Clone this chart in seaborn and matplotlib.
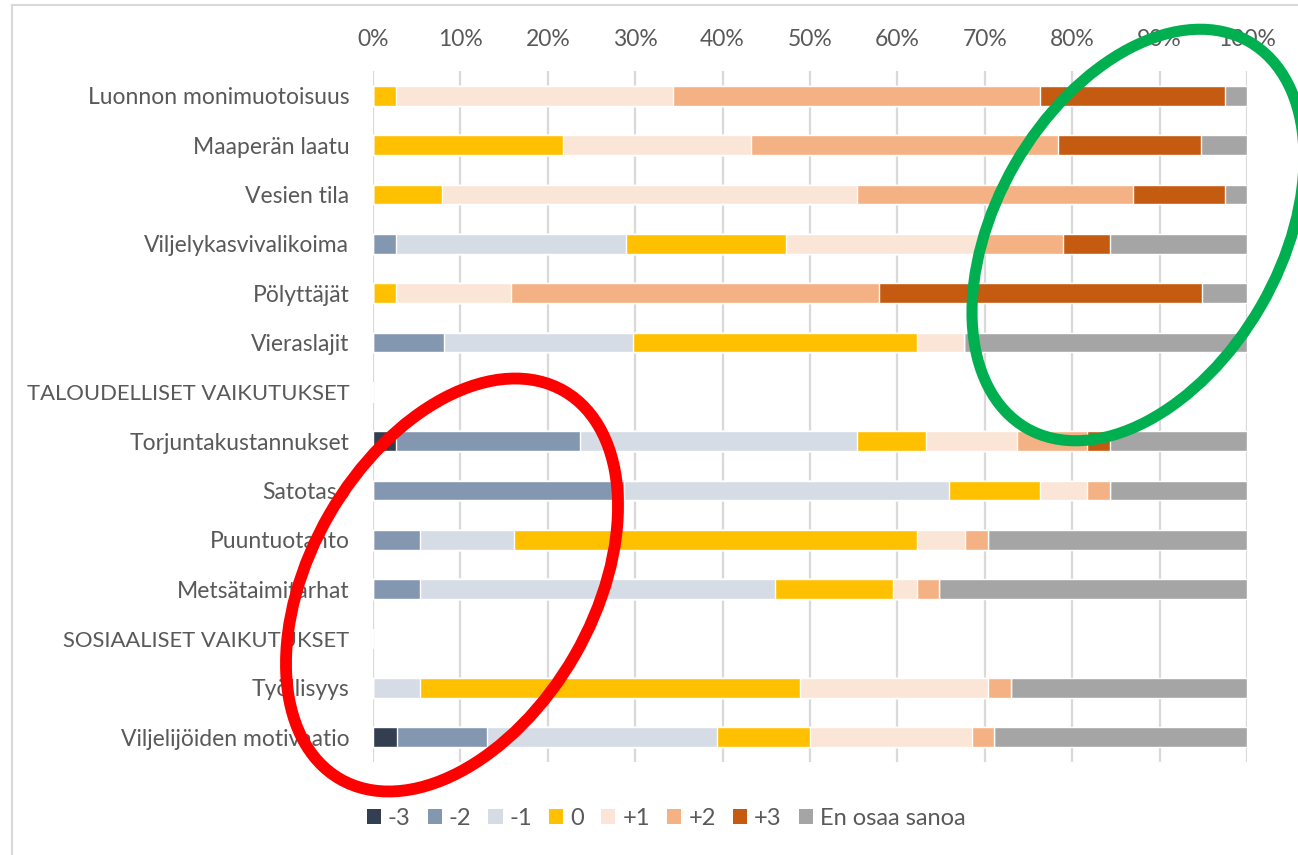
import matplotlib
matplotlib.use("Agg")
import matplotlib.pyplot as plt
from matplotlib.patches import Ellipse, Patch
import seaborn as sns
import numpy as np

categories = ["Luonnon monimuotoisuus", "Maaperän laatu", "Vesien tila",
              "Viljelykasvivalikoima", "Pölyttäjät", "Vieraslajit",
              "TALOUDELLISET VAIKUTUKSET", "Torjuntakustannukset", "Satotaso",
              "Puuntuotanto", "Metsätaimitarhat", "SOSIAALISET VAIKUTUKSET",
              "Työllisyys", "Viljelijöiden motivaatio"]

levels = ["-3", "-2", "-1", "0", "+1", "+2", "+3", "En osaa sanoa"]

s_m3 = [0, 0, 0, 0, 0, 0, 0, 2.6, 0, 0, 0, 0, 0, 2.7]
s_m2 = [0, 0, 0, 2.6, 0, 8.1, 0, 21.1, 28.7, 5.4, 5.4, 0, 0, 10.4]
s_m1 = [0, 0, 0, 26.3, 0, 21.6, 0, 31.7, 37.2, 10.7, 40.6, 0, 5.4, 26.3]
s_0 = [2.6, 21.7, 7.9, 18.4, 2.6, 32.5, 0, 7.9, 10.4, 46.1, 13.5, 0, 43.4, 10.6]
s_p1 = [31.7, 21.6, 47.5, 22.3, 13.2, 5.4, 0, 10.4, 5.4, 5.5, 2.7, 0, 21.6, 18.5]
s_p2 = [42.0, 35.1, 31.5, 9.3, 42.1, 0, 0, 8.0, 2.6, 2.7, 2.6, 0, 2.6, 2.5]
s_p3 = [21.2, 16.3, 10.6, 5.4, 36.9, 0, 0, 2.6, 0, 0, 0, 0, 0, 0]
s_eos = [2.5, 5.3, 2.5, 15.7, 5.2, 32.4, 0, 15.7, 15.7, 29.6, 35.2, 0, 27.0, 29.0]

colors = ["#333F50", "#8497B0", "#D6DCE5", "#FFC000", "#FBE5D6", "#F4B183",
          "#C55A11", "#A5A5A5"]

series = [s_m3, s_m2, s_m1, s_0, s_p1, s_p2, s_p3, s_eos]

sns.set_theme(style="white")
plt.rcParams["font.family"] = ["Lato", "DejaVu Sans"]
txt = "#595959"

W, H = 1298, 855
fig = plt.figure(figsize=(W / 100, H / 100), dpi=100)
fig.patch.set_facecolor("white")
ax = fig.add_axes([373 / W, 1 - 762 / H, (1247 - 373) / W, (762 - 71) / H])

cum = np.cumsum(np.array(series, dtype=float), axis=0)
for i in range(len(series) - 1, -1, -1):
    sns.barplot(x=cum[i], y=categories, color=colors[i], width=0.4,
                orient="h", saturation=1, ax=ax, zorder=3)

ax.set_xlim(0, 100)
ax.set_ylim(len(categories) - 0.5, -0.5)
ax.set_xticks(np.arange(0, 101, 10))
ax.set_xticklabels([f"{v}%" for v in range(0, 101, 10)])
ax.xaxis.tick_top()
ax.tick_params(axis="x", length=0, pad=15, labelsize=16.5, labelcolor=txt)
ax.tick_params(axis="y", length=0, pad=17, labelsize=16.5, labelcolor=txt)
for lab in ax.get_yticklabels():
    if lab.get_text().isupper():
        lab.set_fontsize(15.8)
ax.set_xlabel("")
ax.set_ylabel("")
ax.grid(axis="x", color="#D9D9D9", linewidth=1.6, zorder=0)
ax.set_axisbelow(True)
for sp in ax.spines.values():
    sp.set_visible(False)

handles = [Patch(facecolor=c, edgecolor="none", label=l) for c, l in zip(colors, levels)]
fig.legend(handles=handles, loc="center", bbox_to_anchor=(666 / W, 1 - 818 / H),
           ncol=8, frameon=False, fontsize=17, labelcolor=txt,
           handlelength=0.6, handleheight=0.6, handletextpad=0.3,
           columnspacing=0.72, borderaxespad=0)

ov = fig.add_axes([0, 0, 1, 1], zorder=10)
ov.set_xlim(0, W)
ov.set_ylim(H, 0)
ov.axis("off")
ov.patch.set_alpha(0)
ov.plot([12, W], [5, 5], color="#D9D9D9", linewidth=1.5)
ov.plot([12, 12], [5, H], color="#D9D9D9", linewidth=1.5)
ov.add_patch(Ellipse((452, 585), 283, 448, angle=30, fill=False,
                     edgecolor="#FF0000", linewidth=8.5))
ov.add_patch(Ellipse((1138, 235), 284, 446, angle=30, fill=False,
                     edgecolor="#00B050", linewidth=8.0))

fig.savefig("out.png", dpi=100, facecolor="white")
